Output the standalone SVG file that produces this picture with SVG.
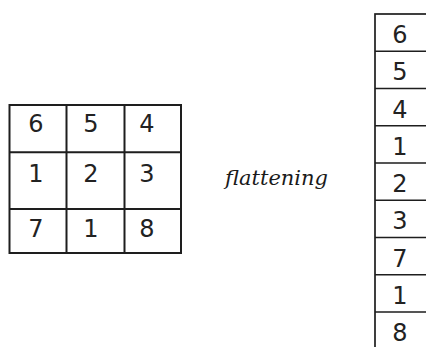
<svg xmlns="http://www.w3.org/2000/svg" width="426" height="347" viewBox="0 0 426 347">
<style>
.ln{fill:none;stroke:#1e1e1e;stroke-width:2}
.ln2{fill:none;stroke:#1e1e1e;stroke-width:1.7}
.d{font-family:"DejaVu Sans",sans-serif;font-size:24px;fill:#222;text-anchor:middle}
.lbl{font-family:"DejaVu Serif",serif;font-style:italic;font-size:21px;fill:#1a1a1a}
</style>
<rect width="426" height="347" fill="#fff"/>
<g id="matrix">
<rect class="ln" x="9.5" y="105" width="171.5" height="148"/>
<path class="ln" d="M66.5 105V253M124.5 105V253M9.5 152.3H181M9.5 209H181"/>
<text class="d" x="36" y="132">6</text>
<text class="d" x="91" y="132">5</text>
<text class="d" x="147" y="132">4</text>
<text class="d" x="36" y="182">1</text>
<text class="d" x="91" y="182">2</text>
<text class="d" x="147" y="182">3</text>
<text class="d" x="36" y="237">7</text>
<text class="d" x="91" y="237">1</text>
<text class="d" x="147" y="237">8</text>
</g>
<g id="label">
<text class="lbl" x="225" y="185">flattening</text>
</g>
<g id="column">
<rect class="ln2" x="375" y="14" width="60" height="345"/>
<path class="ln2" d="M375 51.25H426M375 88.5H426M375 125.75H426M375 163H426M375 200.25H426M375 237.5H426M375 274.75H426M375 312H426"/>
<text class="d" x="400" y="43">6</text>
<text class="d" x="400" y="80.25">5</text>
<text class="d" x="400" y="117.5">4</text>
<text class="d" x="400" y="154.75">1</text>
<text class="d" x="400" y="192">2</text>
<text class="d" x="400" y="229.25">3</text>
<text class="d" x="400" y="266.5">7</text>
<text class="d" x="400" y="303.75">1</text>
<text class="d" x="400" y="341">8</text>
</g>
</svg>
